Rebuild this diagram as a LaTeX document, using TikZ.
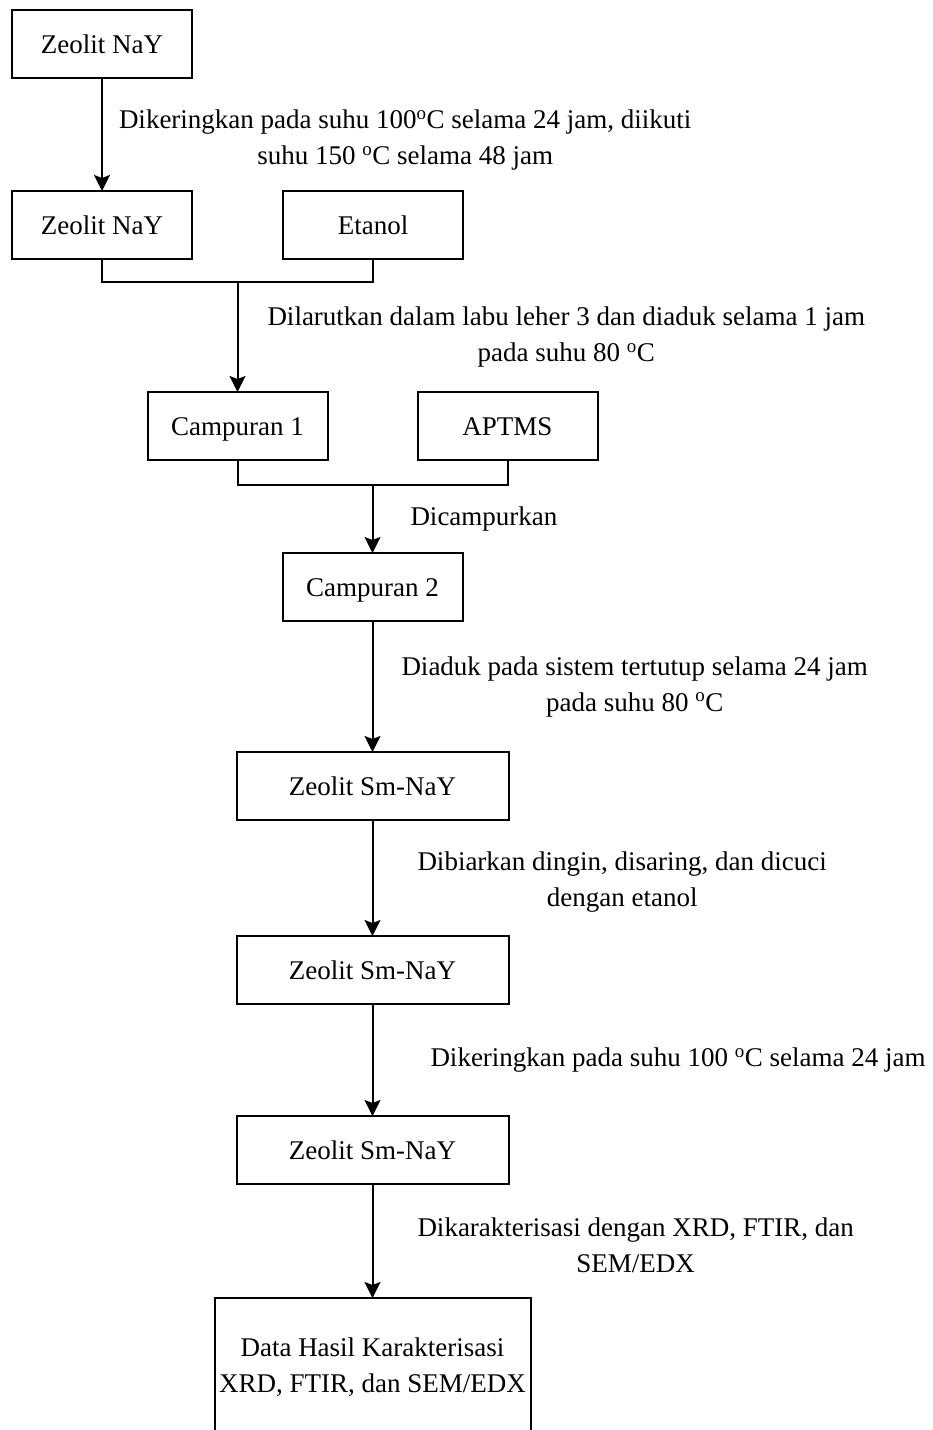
\documentclass[tikz,border=0pt]{standalone}
\usepackage{fontspec}
\setmainfont{Liberation Serif}
\usetikzlibrary{arrows.meta,positioning,calc}

\begin{document}
\begin{tikzpicture}[box/.style={rectangle, draw, line width=2pt, minimum width=180pt, minimum height=68pt, inner sep=0pt, outer sep=0pt, text height=21pt, text depth=3pt},
  wide/.style={box, minimum width=272pt},
  lbl/.style={align=center, inner sep=0pt},
  arr/.style={-{Stealth[length=16pt, width=16pt, inset=3pt]}, line width=2pt},
  font=\fontsize{27}{36}\selectfont]
  \useasboundingbox (0pt,0pt) rectangle (932pt,-1430pt);

  \node[box] (z1) at (102pt,-44pt) {Zeolit NaY};
  \node[box, below=113pt of z1] (z2) {Zeolit NaY};
  \node[box, right=91pt of z2] (et) {Etanol};
  \draw[arr] (z1) -- node[lbl, right=16pt, yshift=-6pt] {Dikeringkan pada suhu 100\textsuperscript{o}C selama 24 jam, diikuti\\suhu 150 \textsuperscript{o}C selama 48 jam} (z2);

  \path ($(z2.south)!0.5!(et.south)$) ++(0,-23pt) coordinate (j1);
  \draw[line width=2pt] (z2.south) |- (j1) -| (et.south);
  \node[box, below=110pt of j1] (c1) {Campuran 1};
  \node[box, right=90pt of c1] (ap) {APTMS};
  \draw[arr] (j1) -- node[lbl, right=29pt] {Dilarutkan dalam labu leher 3 dan diaduk selama 1 jam\\pada suhu 80 \textsuperscript{o}C} (c1);

  \path ($(c1.south)!0.5!(ap.south)$) ++(0,-25pt) coordinate (j2);
  \draw[line width=2pt] (c1.south) |- (j2) -| (ap.south);
  \node[box, below=68pt of j2] (c2) {Campuran 2};
  \draw[arr] (j2) -- node[lbl, right=37pt] {Dicampurkan} (c2);

  \node[wide, below=131pt of c2] (s1) {Zeolit Sm-NaY};
  \draw[arr] (c2) -- node[lbl, right=28pt] {Diaduk pada sistem tertutup selama 24 jam\\pada suhu 80 \textsuperscript{o}C} (s1);

  \node[wide, below=116pt of s1] (s2) {Zeolit Sm-NaY};
  \draw[arr] (s1) -- node[lbl, right=44pt, yshift=-4pt] {Dibiarkan dingin, disaring, dan dicuci\\dengan etanol} (s2);

  \node[wide, below=112pt of s2] (s3) {Zeolit Sm-NaY};
  \draw[arr] (s2) -- node[lbl, right=57pt] {Dikeringkan pada suhu 100 \textsuperscript{o}C selama 24 jam} (s3);

  \node[box, align=center, text height=, text depth=, minimum width=316pt, minimum height=138pt, below=114pt of s3] (hasil) {Data Hasil Karakterisasi\\XRD, FTIR, dan SEM/EDX};
  \draw[arr] (s3) -- node[lbl, right=44pt, yshift=-4pt] {Dikarakterisasi dengan XRD, FTIR, dan\\SEM/EDX} (hasil);
\end{tikzpicture}
\end{document}
